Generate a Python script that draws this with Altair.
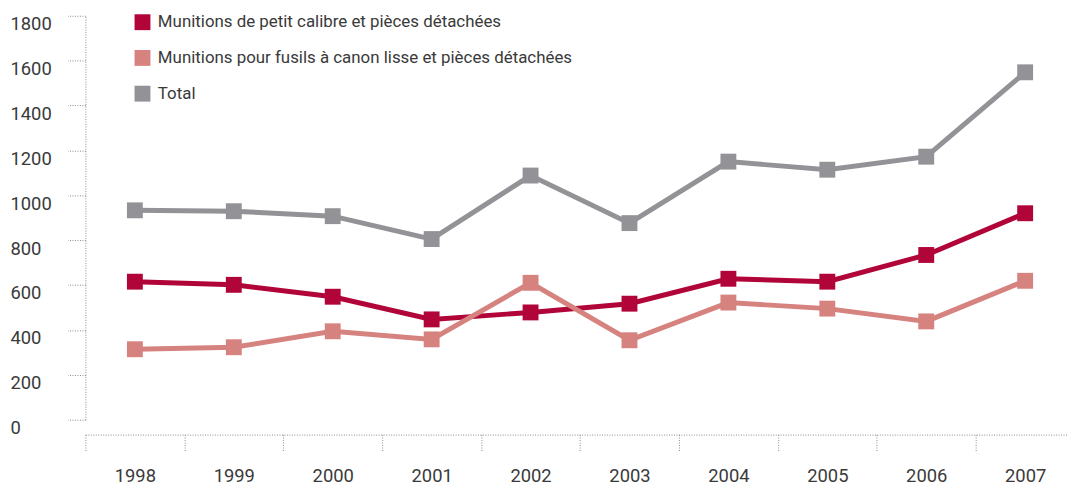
import altair as alt
import pandas as pd

years = [1998, 1999, 2000, 2001, 2002, 2003, 2004, 2005, 2006, 2007]
series_names = [
    "Munitions de petit calibre et pièces détachées",
    "Munitions pour fusils à canon lisse et pièces détachées",
    "Total",
]
petit = [615, 601, 548, 447, 478, 517, 628, 615, 734, 920]
lisse = [314, 323, 394, 358, 610, 354, 522, 495, 438, 619]
total = [933, 929, 907, 805, 1088, 876, 1150, 1114, 1172, 1548]
colors = ["#B1053A", "#D6827F", "#939397"]
y_ticks = [0, 200, 400, 600, 800, 1000, 1200, 1400, 1600, 1800]
# label positions (years) and tick positions (year boundaries)
x_values = years + [y - 0.5 for y in years]

rows = []
for name, vals in zip(series_names, [petit, lisse, total]):
    for yr, v in zip(years, vals):
        rows.append({"year": yr, "series": name, "value": v})
df = pd.DataFrame(rows)

FONT = "Roboto, sans-serif"
TXT = "#3a3a3a"
DOT = "#8a8a8a"

color = alt.Color(
    "series:N",
    scale=alt.Scale(domain=series_names, range=colors),
    legend=alt.Legend(
        title=None,
        orient="none",
        legendX=49,
        legendY=-2,
        symbolType="square",
        symbolSize=256,
        symbolStrokeWidth=0,
        symbolOpacity=1,
        labelFont=FONT,
        labelFontSize=17,
        labelFontWeight=400,
        labelColor=TXT,
        labelOffset=7,
        rowPadding=18,
        labelLimit=600,
    ),
)

x = alt.X(
    "year:Q",
    scale=alt.Scale(domain=[1997.5, 2007.423], nice=False, zero=False),
    axis=alt.Axis(
        title=None,
        orient="bottom",
        offset=15,
        values=x_values,
        labelExpr="datum.value % 1 == 0 ? format(datum.value, 'd') : ''",
        labelAngle=0,
        labelFont=FONT,
        labelFontSize=18.5,
        labelFontWeight=400,
        labelColor=TXT,
        labelPadding=15,
        labelBaseline="top",
        labelOverlap=False,
        labelFlush=False,
        domainColor=DOT,
        domainDash=[1, 1.5],
        domainWidth=1,
        tickColor=DOT,
        tickDash=[1, 1.5],
        tickSize=17,
        tickWidth=1,
        tickOpacity={"condition": {"test": "datum.value % 1 == 0", "value": 0}, "value": 1},
        grid=False,
    ),
)

y = alt.Y(
    "value:Q",
    scale=alt.Scale(domain=[0, 1800], nice=False, zero=True),
    axis=alt.Axis(
        title=None,
        values=y_ticks,
        format="d",
        labelFont=FONT,
        labelFontSize=18.5,
        labelFontWeight=400,
        labelColor=TXT,
        labelAlign="left",
        labelBaseline="middle",
        labelOffset=8,
        labelPadding=58,
        domainColor=DOT,
        domainDash=[1, 1.5],
        domainWidth=1,
        tickColor=DOT,
        tickDash=[1, 1.5],
        tickSize=18,
        tickWidth=1,
        grid=False,
    ),
)

layers = []
for name in [series_names[2], series_names[0], series_names[1]]:
    base = alt.Chart(df).transform_filter(alt.datum.series == name).encode(x=x, y=y, color=color)
    layers.append(base.mark_line(strokeWidth=5, strokeJoin="miter"))
    layers.append(base.mark_point(shape="square", size=256, filled=True, opacity=1, strokeWidth=0))

chart = (
    alt.layer(*layers)
    .properties(
        width=989,
        height=407,
        autosize=alt.AutoSizeParams(type="none"),
        padding={"left": 78, "top": 6, "right": 0, "bottom": 68},
        background="white",
    )
    .configure_view(stroke=None)
)

chart.save("out.html", embed_options={"renderer": "svg", "actions": False})
